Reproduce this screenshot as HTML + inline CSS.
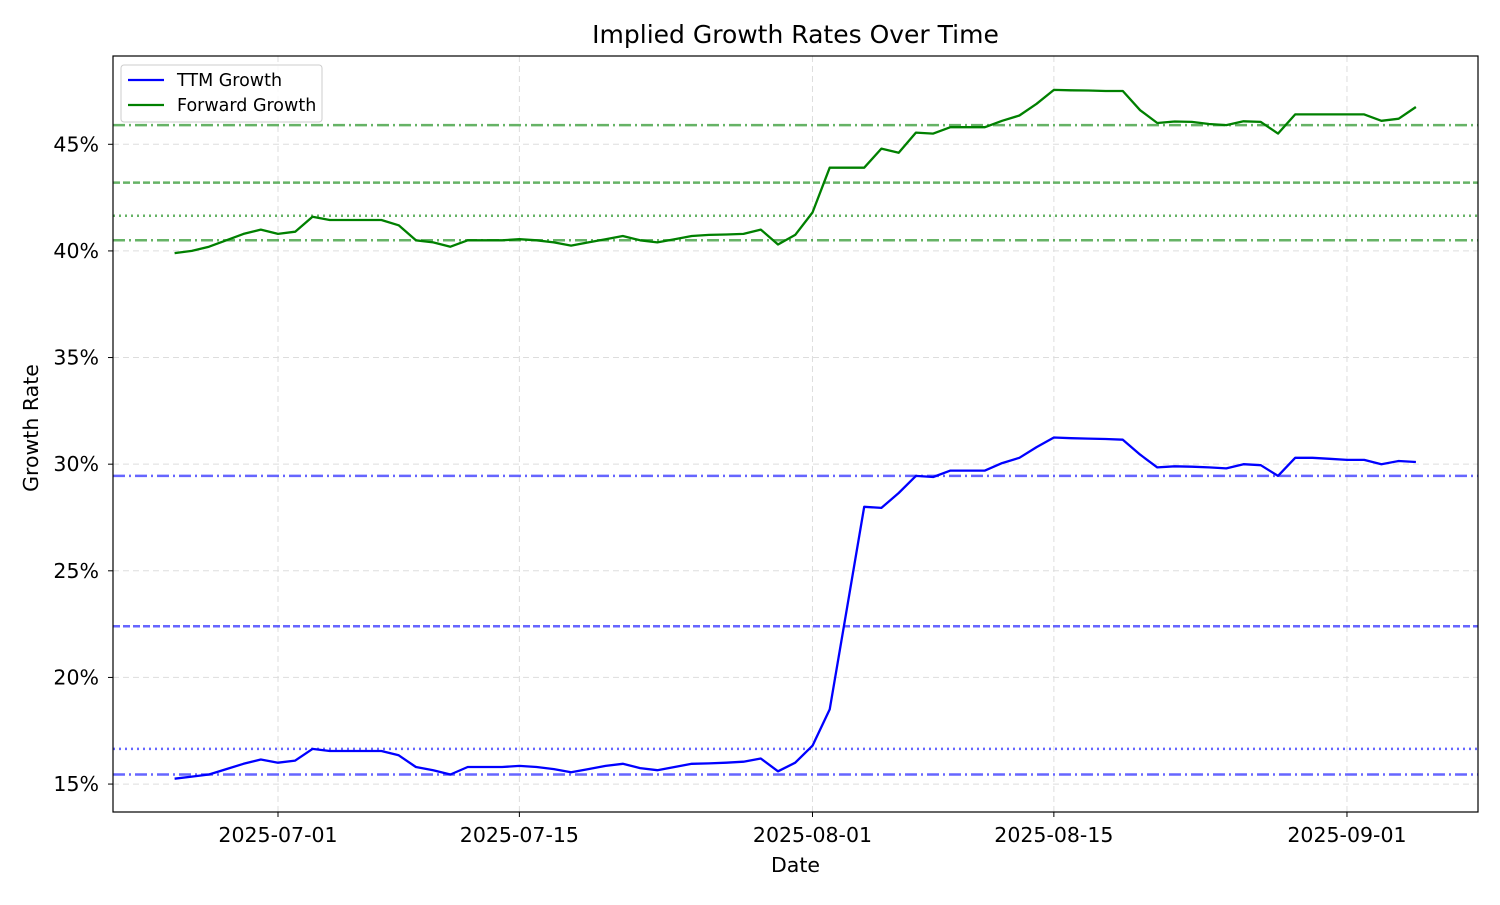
<!DOCTYPE html>
<html><head><meta charset="utf-8"><style>
body{margin:0;background:#fff;}
svg text{font-family:"DejaVu Sans","Liberation Sans",sans-serif;}
</style></head><body>
<svg width="1500" height="900" xmlns="http://www.w3.org/2000/svg" id="chart">
<rect width="1500" height="900" fill="#fff"/>
<g id="grid"></g><g id="refs"></g><g id="series"></g><g id="axes"></g>
</svg>
<script>
const dayOffsets=[];for(let d=-6;d<=66;d++)dayOffsets.push(d);
const ttmGrowth=[15.25,15.35,15.45,15.7,15.95,16.15,16.0,16.1,16.65,16.55,16.55,16.55,16.55,16.35,15.8,15.65,15.45,15.8,15.8,15.8,15.85,15.8,15.7,15.55,15.7,15.85,15.95,15.75,15.65,15.8,15.95,15.97,16.0,16.05,16.2,15.6,16.0,16.8,18.5,23.25,28.0,27.95,28.65,29.45,29.4,29.7,29.7,29.7,30.05,30.3,30.8,31.25,31.22,31.2,31.18,31.15,30.45,29.85,29.9,29.88,29.85,29.8,30.0,29.95,29.45,30.3,30.3,30.25,30.2,30.2,30.0,30.15,30.1];
const fwdGrowth=[39.9,40.0,40.2,40.5,40.8,41.0,40.8,40.9,41.6,41.45,41.45,41.45,41.45,41.2,40.5,40.4,40.2,40.5,40.5,40.5,40.55,40.5,40.4,40.25,40.4,40.55,40.7,40.5,40.4,40.55,40.7,40.75,40.77,40.8,41.0,40.3,40.75,41.8,43.9,43.9,43.9,44.8,44.6,45.55,45.5,45.8,45.8,45.8,46.1,46.35,46.9,47.55,47.53,47.52,47.5,47.5,46.6,46.0,46.07,46.05,45.95,45.9,46.08,46.05,45.5,46.4,46.4,46.4,46.4,46.4,46.1,46.2,46.75];
const fwdRefs=[45.9,43.2,41.65,40.5];
const ttmRefs=[29.45,22.4,16.65,15.45];
const refStyles=["12,4,2,4","7,3","2,4","12,4,2,4"];
const yTicks=[15,20,25,30,35,40,45];
const xTickDays=[0,14,31,45,62];
const xTickLabels=["2025-07-01","2025-07-15","2025-08-01","2025-08-15","2025-09-01"];
const L=113,R=1478,T=56,B=812,ymin=13.69,ymax=49.14,xmin=-9.57,xmax=69.6;
const X=d=>L+(d-xmin)/(xmax-xmin)*(R-L);
const Y=v=>B-(v-ymin)/(ymax-ymin)*(B-T);
const NS="http://www.w3.org/2000/svg";
function mk(p,tag,a){const e=document.createElementNS(NS,tag);for(const k in a)e.setAttribute(k,a[k]);p.appendChild(e);return e;}
const grid=document.getElementById('grid'),refs=document.getElementById('refs'),ser=document.getElementById('series'),ax=document.getElementById('axes');
yTicks.forEach(v=>{const l=mk(grid,'line',{x1:L,x2:R,y1:Y(v),y2:Y(v),stroke:'#ddd','stroke-dasharray':'6,4','stroke-width':1});


mk(ax,'line',{x1:L-5,x2:L,y1:Y(v),y2:Y(v),stroke:'#000'});
const t=mk(ax,'text',{x:L-14,y:Y(v)+7,'text-anchor':'end','font-size':20.5});t.textContent=v+'%';

});
xTickDays.forEach((d,i)=>{const l=mk(grid,'line',{x1:X(d),x2:X(d),y1:T,y2:B,stroke:'#ddd','stroke-dasharray':'6,4','stroke-width':1});


mk(ax,'line',{x1:X(d),x2:X(d),y1:B,y2:B+5,stroke:'#000'});
const t=mk(ax,'text',{x:X(d),y:B+30,'text-anchor':'middle','font-size':20.5});t.textContent=xTickLabels[i];

});
function refLine(v,i,col){const l=mk(refs,'line',{x1:L,x2:R,y1:Y(v),y2:Y(v),stroke:col,'stroke-opacity':0.6,'stroke-width':2.5,'stroke-dasharray':refStyles[i]});

}
fwdRefs.forEach((v,i)=>refLine(v,i,'green'));
ttmRefs.forEach((v,i)=>refLine(v,i,'blue'));
function path(vals,col,name){const d=vals.map((v,i)=>(i?'L':'M')+X(dayOffsets[i]).toFixed(1)+','+Y(v).toFixed(1)).join('');
const p=mk(ser,'path',{d:d,fill:'none',stroke:col,'stroke-width':2.3,'stroke-linejoin':'round'});

}
path(fwdGrowth,'green','forward-growth-line');
path(ttmGrowth,'blue','ttm-growth-line');
mk(ax,'rect',{x:L,y:T,width:R-L,height:B-T,fill:'none',stroke:'#000','stroke-width':1.2});
let t=mk(ax,'text',{x:(L+R)/2,y:43,'text-anchor':'middle','font-size':25});t.textContent='Implied Growth Rates Over Time';


t=mk(ax,'text',{x:(L+R)/2,y:872,'text-anchor':'middle','font-size':20.5});t.textContent='Date';


t=mk(ax,'text',{x:38,y:(T+B)/2-6,'text-anchor':'middle','font-size':20.5,transform:'rotate(-90 38 '+((T+B)/2-6)+')'});t.textContent='Growth Rate';


const lg=mk(ax,'g',{});


mk(lg,'rect',{x:121,y:65,width:201,height:57,rx:3,fill:'#fff','fill-opacity':0.8,stroke:'#ccc'});
mk(lg,'line',{x1:128,x2:164,y1:80,y2:80,stroke:'blue','stroke-width':2.3});
mk(lg,'line',{x1:128,x2:164,y1:105,y2:105,stroke:'green','stroke-width':2.3});
t=mk(lg,'text',{x:177,y:86,'font-size':17.5});t.textContent='TTM Growth';


t=mk(lg,'text',{x:177,y:111,'font-size':17.5});t.textContent='Forward Growth';


</script>
</body></html>
